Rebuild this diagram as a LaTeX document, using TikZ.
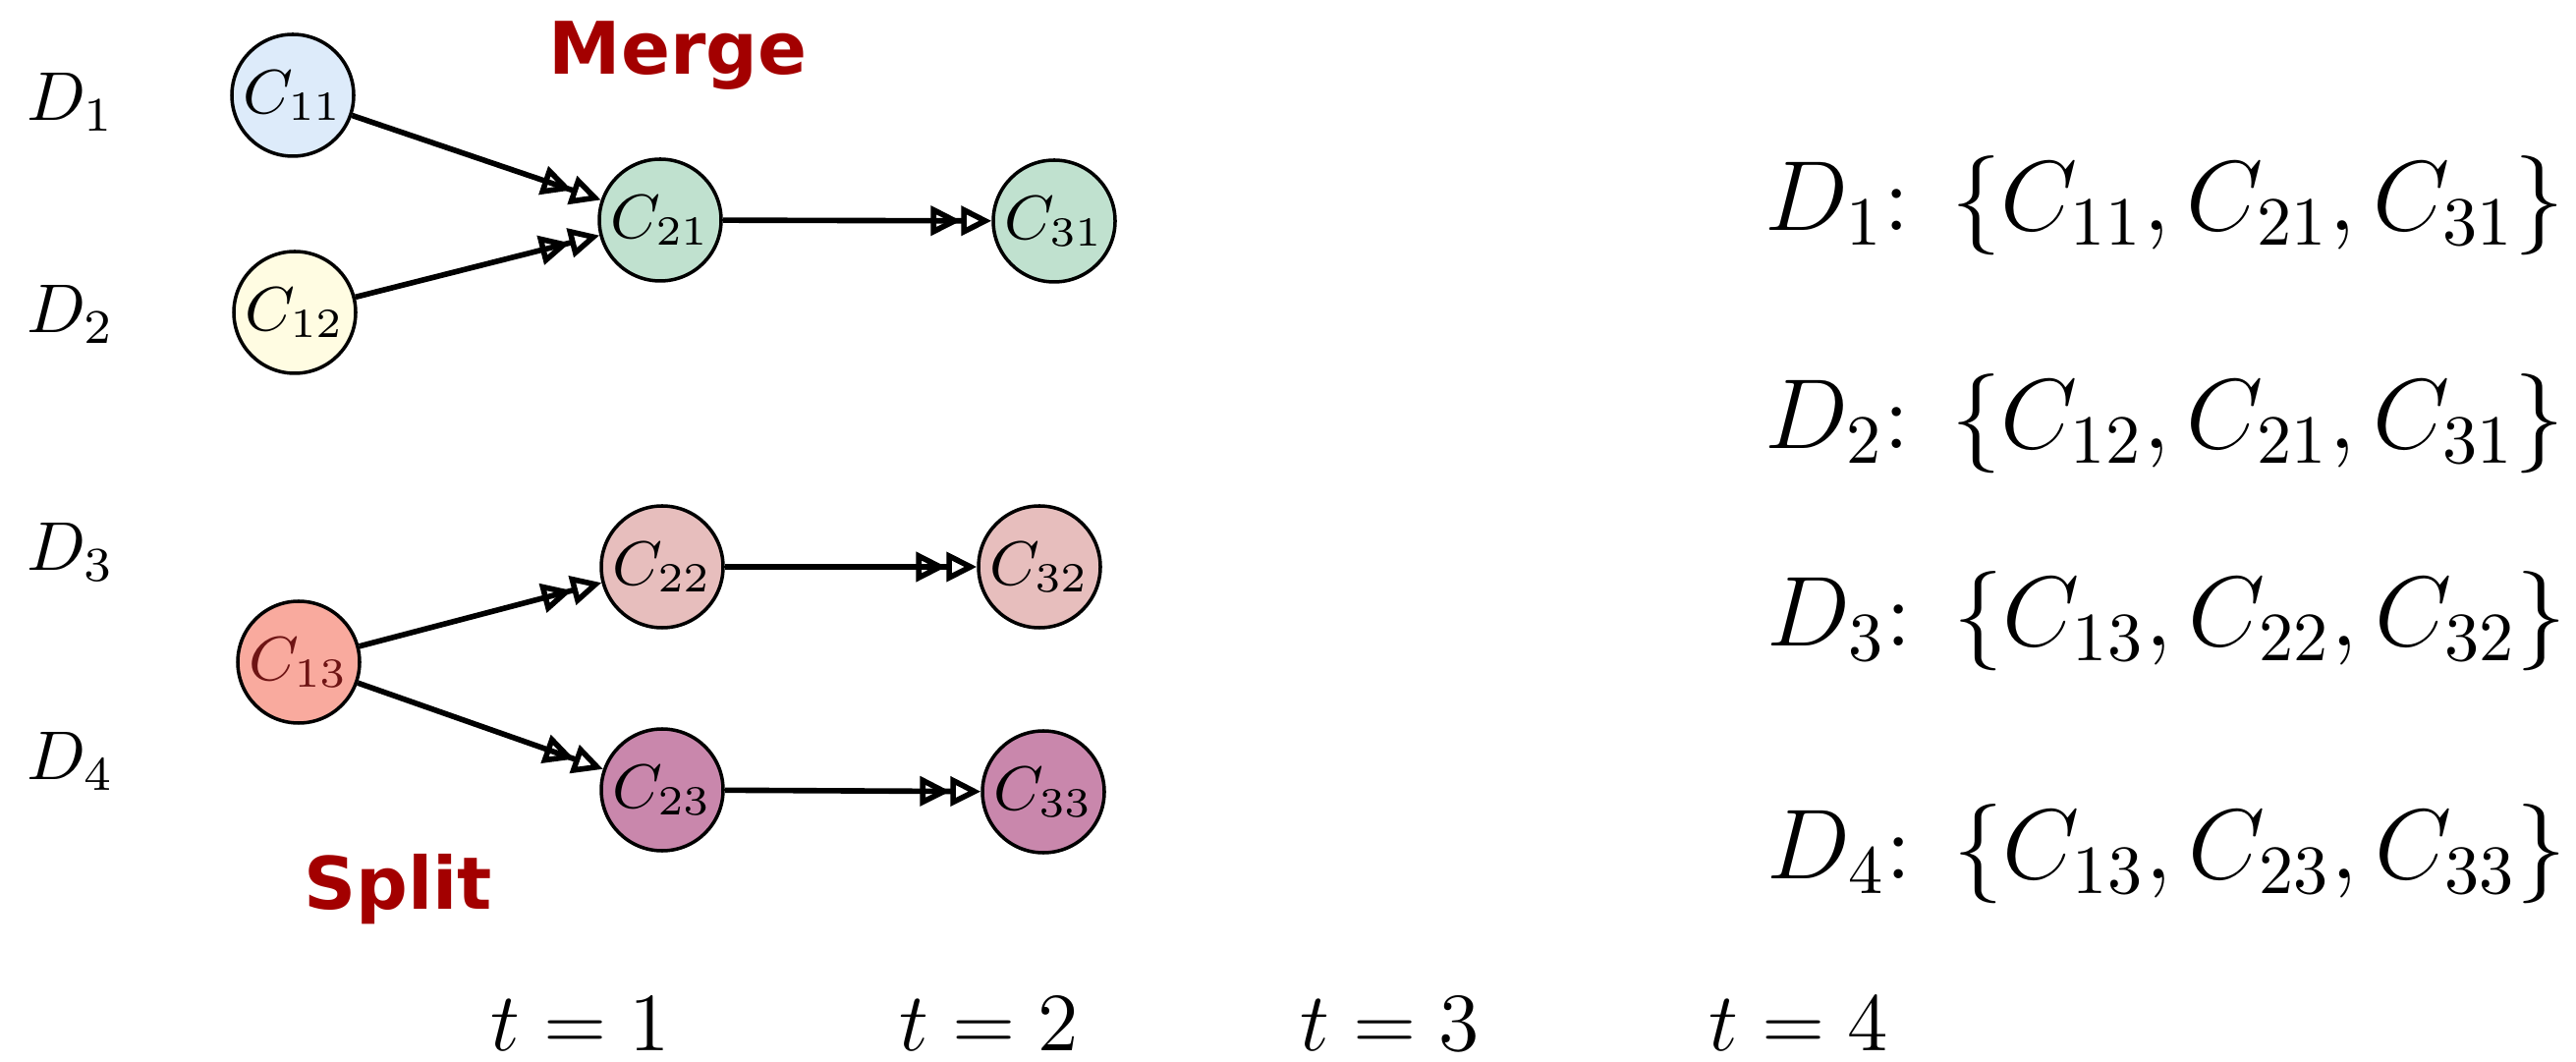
\documentclass[tikz,border=0pt]{standalone}
\usepackage{fontspec}
\newfontfamily\tagfont{DejaVu Sans}
\usetikzlibrary{arrows.meta}
\definecolor{tagred}{RGB}{163,0,0}
\definecolor{blueA}{RGB}{221,235,250}
\definecolor{yellowA}{RGB}{255,252,226}
\definecolor{greenA}{RGB}{192,225,207}
\definecolor{salmonA}{RGB}{249,170,158}
\definecolor{pinkA}{RGB}{231,190,189}
\definecolor{mauveA}{RGB}{201,135,172}
\definecolor{textC13}{RGB}{110,20,20}
\begin{document}
\begin{tikzpicture}[
  cnode/.style={draw, circle, line width=0.5pt, minimum size=0.62cm, inner sep=0pt, font=\fontsize{8.6}{10}\selectfont},
  link/.style={-{Triangle[open,length=4.4pt,width=4.2pt] Triangle[open,length=4.4pt,width=4.2pt]}, line width=0.8pt},
  tag/.style={font=\tagfont\bfseries\fontsize{10.5}{12}\selectfont, text=tagred},
  set/.style={anchor=west, font=\fontsize{13.8}{16}\selectfont},
  time/.style={font=\fontsize{12.3}{15}\selectfont}]
\useasboundingbox (0,0) rectangle (13.11,-5.405);
% datasets
\node (d1) at (0.36,-0.52) {$D_1$};
\node (d2) at (0.36,-1.60) {$D_2$};
\node (d3) at (0.36,-2.81) {$D_3$};
\node (d4) at (0.36,-3.875) {$D_4$};
% clusters
\node[cnode, fill=blueA] (c11) at (1.49,-0.485) {$C_{11}$};
\node[cnode, fill=yellowA] (c12) at (1.50,-1.59) {$C_{12}$};
\node[cnode, fill=salmonA, text=textC13] (c13) at (1.52,-3.37) {$C_{13}$};
\node[cnode, fill=greenA] (c21) at (3.36,-1.12) {$C_{21}$};
\node[cnode, fill=pinkA] (c22) at (3.37,-2.885) {$C_{22}$};
\node[cnode, fill=mauveA] (c23) at (3.37,-4.02) {$C_{23}$};
\node[cnode, fill=greenA] (c31) at (5.365,-1.125) {$C_{31}$};
\node[cnode, fill=pinkA] (c32) at (5.29,-2.885) {$C_{32}$};
\node[cnode, fill=mauveA] (c33) at (5.31,-4.03) {$C_{33}$};
\node[tag] (merge) at (3.45,-0.285) {Merge};
\node[tag] (split) at (2.025,-4.525) {Split};
\draw[link] (c11) -- (c21);
\draw[link] (c12) -- (c21);
\draw[link] (c21) -- (c31);
\draw[link] (c13) -- (c22);
\draw[link] (c13) -- (c23);
\draw[link] (c22) -- (c32);
\draw[link] (c23) -- (c33);
% cluster sets
\node[set] (s1) at (8.86,-1.045) {$D_1$: $\{C_{11},C_{21},C_{31}\}$};
\node[set] (s2) at (8.86,-2.155) {$D_2$: $\{C_{12},C_{21},C_{31}\}$};
\node[set] (s3) at (8.87,-3.16) {$D_3$: $\{C_{13},C_{22},C_{32}\}$};
\node[set] (s4) at (8.87,-4.345) {$D_4$: $\{C_{13},C_{23},C_{33}\}$};
% time steps
\node[time] (t1) at (2.955,-5.21) {$t=1$};
\node[time] (t2) at (5.035,-5.21) {$t=2$};
\node[time] (t3) at (7.075,-5.21) {$t=3$};
\node[time] (t4) at (9.155,-5.21) {$t=4$};
\end{tikzpicture}
\end{document}
